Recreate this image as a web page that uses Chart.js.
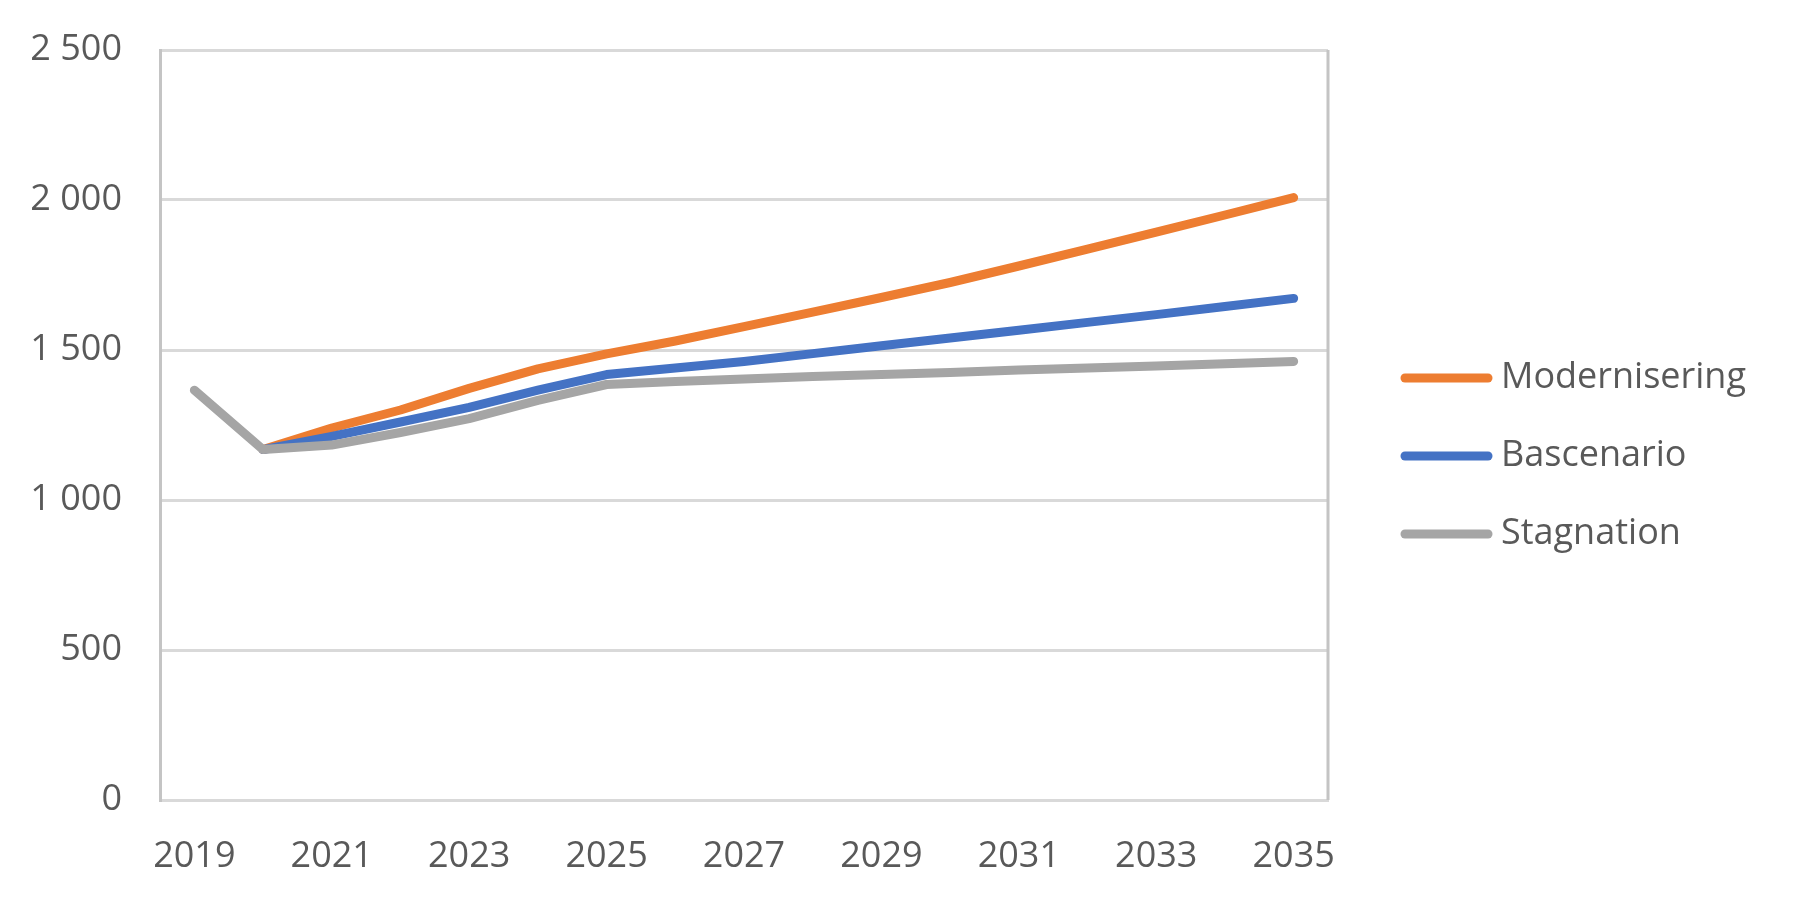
<!DOCTYPE html>
<html lang="sv">
<head>
    <meta charset="UTF-8">
    <title>Scenarier 2019–2035</title>
    <script src="https://cdn.jsdelivr.net/npm/chart.js"></script>
    <style>
        html, body { margin: 0; padding: 0; background: #fff; }
        #wrap { width: 1793px; height: 906px; }
    </style>
</head>
<body>
    <div id="wrap">
        <canvas id="lineChart" width="1793" height="906"></canvas>
    </div>

    <script>
        // Data
        const years = ['2019', '2020', '2021', '2022', '2023', '2024', '2025', '2026', '2027',
                       '2028', '2029', '2030', '2031', '2032', '2033', '2034', '2035'];
        const modernisering = [null, 1168, 1240, 1300, 1372, 1437, 1487, 1530, 1578,
                               1626, 1675, 1725, 1780, 1836, 1893, 1950, 2008];
        const bascenario = [null, 1168, 1212, 1260, 1309, 1366, 1418, 1440, 1462,
                            1488, 1514, 1540, 1566, 1592, 1618, 1645, 1672];
        const stagnation = [1366, 1168, 1183, 1225, 1271, 1332, 1385, 1395, 1403,
                            1412, 1418, 1425, 1433, 1440, 1447, 1454, 1462];
        const seriesNames = ['Modernisering', 'Bascenario', 'Stagnation'];
        const seriesColors = ['#ED7D31', '#4472C4', '#A5A5A5'];

        const FONT = "'Open Sans', 'Noto Sans', sans-serif";
        const TEXT_COLOR = '#595959';

        function spaced(v) {
            return String(v).replace(/\B(?=(\d{3})+(?!\d))/g, ' ');
        }

        // Right border of the plot area + legend on the right
        const frameAndLegend = {
            id: 'frameAndLegend',
            afterDraw(chart) {
                const ctx = chart.ctx;
                const area = chart.chartArea;
                ctx.save();
                ctx.strokeStyle = '#c4c4c4';
                ctx.lineWidth = 3;
                ctx.beginPath();
                ctx.moveTo(area.right, area.top);
                ctx.lineTo(area.right, area.bottom);
                ctx.stroke();

                const rows = [378, 456, 534];
                ctx.font = '36px ' + FONT;
                ctx.textBaseline = 'middle';
                ctx.textAlign = 'left';
                chart.data.datasets.forEach((ds, i) => {
                    ctx.strokeStyle = ds.borderColor;
                    ctx.lineWidth = 9;
                    ctx.lineCap = 'round';
                    ctx.beginPath();
                    ctx.moveTo(1405, rows[i]);
                    ctx.lineTo(1488, rows[i]);
                    ctx.stroke();
                    ctx.fillStyle = TEXT_COLOR;
                    ctx.fillText(ds.label, 1501, rows[i]);
                });
                ctx.restore();
            }
        };

        function makeDataset(i, values, order) {
            return {
                label: seriesNames[i],
                data: values,
                borderColor: seriesColors[i],
                backgroundColor: seriesColors[i],
                borderWidth: 9,
                borderCapStyle: 'round',
                borderJoinStyle: 'round',
                pointRadius: 0,
                pointHoverRadius: 0,
                tension: 0,
                fill: false,
                order: order
            };
        }

        const ctx = document.getElementById('lineChart').getContext('2d');
        const chart = new Chart(ctx, {
            type: 'line',
            data: {
                labels: years,
                datasets: [
                    makeDataset(0, modernisering, 3),
                    makeDataset(1, bascenario, 2),
                    makeDataset(2, stagnation, 1)
                ]
            },
            options: {
                responsive: false,
                animation: false,
                devicePixelRatio: 1,
                layout: { padding: { top: 50, right: 465, bottom: 0, left: 0 } },
                plugins: {
                    legend: { display: false },
                    tooltip: { enabled: false }
                },
                scales: {
                    x: {
                        type: 'category',
                        offset: true,
                        grid: { display: false, drawTicks: false },
                        border: { display: true, color: '#d9d9d9', width: 3 },
                        ticks: {
                            autoSkip: false,
                            maxRotation: 0,
                            padding: 35,
                            color: TEXT_COLOR,
                            font: { family: FONT, size: 36 },
                            callback: function (value, index) {
                                return index % 2 === 0 ? this.getLabelForValue(value) : '';
                            }
                        },
                        afterFit(scale) {
                            scale.height = 106;
                            scale.paddingLeft = 0;
                            scale.paddingRight = 0;
                        }
                    },
                    y: {
                        min: 0,
                        max: 2500,
                        grid: { color: '#d9d9d9', lineWidth: 3, drawTicks: false },
                        border: { display: true, color: '#c4c4c4', width: 3 },
                        ticks: {
                            stepSize: 500,
                            padding: 38,
                            color: TEXT_COLOR,
                            font: { family: FONT, size: 36 },
                            callback: (v) => spaced(v)
                        },
                        afterFit(scale) {
                            scale.width = 160;
                            scale.paddingTop = 0;
                            scale.paddingBottom = 0;
                        }
                    }
                }
            },
            plugins: [frameAndLegend]
        });
    </script>
</body>
</html>
